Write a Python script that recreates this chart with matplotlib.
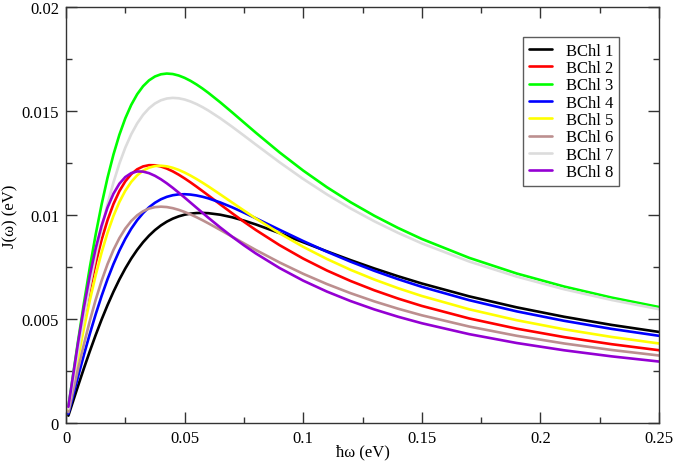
import matplotlib
matplotlib.use("Agg")
import matplotlib.pyplot as plt
from matplotlib.ticker import FixedLocator, MultipleLocator

x = [0.001, 0.005, 0.0075, 0.01, 0.0125, 0.015, 0.0175, 0.02, 0.0225, 0.025, 0.0275, 0.03,
     0.0325, 0.035, 0.0375, 0.04, 0.0425, 0.045, 0.0475, 0.05, 0.0525, 0.055, 0.0575, 0.06,
     0.065, 0.07, 0.075, 0.08, 0.09, 0.10, 0.11, 0.12, 0.13, 0.14, 0.15, 0.17, 0.19, 0.21,
     0.23, 0.25]

bchl1 = [0.000354, 0.001758, 0.002613, 0.003438, 0.004227, 0.004972, 0.005667, 0.006311, 0.006899,
         0.007430, 0.007906, 0.008325, 0.008692, 0.009007, 0.009275, 0.009498, 0.009680, 0.009824,
         0.009934, 0.010014, 0.010066, 0.010094, 0.010100, 0.010087, 0.010014, 0.009891, 0.009731,
         0.009546, 0.009131, 0.008690, 0.008252, 0.007829, 0.007429, 0.007055, 0.006707, 0.006088,
         0.005560, 0.005107, 0.004716, 0.004378]
bchl2 = [0.000688, 0.003379, 0.004952, 0.006395, 0.007685, 0.008805, 0.009751, 0.010528, 0.011146,
         0.011619, 0.011963, 0.012197, 0.012335, 0.012395, 0.012390, 0.012331, 0.012231, 0.012098,
         0.011938, 0.011760, 0.011567, 0.011364, 0.011154, 0.010941, 0.010511, 0.010087, 0.009675,
         0.009281, 0.008552, 0.007904, 0.007331, 0.006826, 0.006379, 0.005982, 0.005628, 0.005026,
         0.004536, 0.004130, 0.003789, 0.003499]
bchl3 = [0.000786, 0.003881, 0.005725, 0.007460, 0.009060, 0.010507, 0.011790, 0.012906, 0.013857,
         0.014650, 0.015295, 0.015805, 0.016193, 0.016473, 0.016659, 0.016764, 0.016800, 0.016777,
         0.016705, 0.016593, 0.016448, 0.016276, 0.016083, 0.015873, 0.015419, 0.014938, 0.014447,
         0.013958, 0.013012, 0.012135, 0.011335, 0.010612, 0.009962, 0.009376, 0.008848, 0.007939,
         0.007188, 0.006561, 0.006030, 0.005576]
bchl4 = [0.000444, 0.002200, 0.003259, 0.004270, 0.005223, 0.006106, 0.006914, 0.007641, 0.008288,
         0.008853, 0.009340, 0.009751, 0.010093, 0.010371, 0.010589, 0.010755, 0.010873, 0.010950,
         0.010991, 0.010999, 0.010981, 0.010939, 0.010878, 0.010800, 0.010604, 0.010371, 0.010114,
         0.009844, 0.009290, 0.008747, 0.008233, 0.007755, 0.007316, 0.006914, 0.006547, 0.005905,
         0.005367, 0.004913, 0.004525, 0.004192]
bchl5 = [0.000624, 0.003075, 0.004523, 0.005873, 0.007102, 0.008195, 0.009147, 0.009956, 0.010626,
         0.011168, 0.011591, 0.011908, 0.012132, 0.012276, 0.012352, 0.012369, 0.012339, 0.012270,
         0.012168, 0.012041, 0.011894, 0.011731, 0.011557, 0.011374, 0.010992, 0.010603, 0.010215,
         0.009836, 0.009120, 0.008469, 0.007885, 0.007362, 0.006896, 0.006480, 0.006106, 0.005466,
         0.004942, 0.004505, 0.004137, 0.003823]
bchl6 = [0.000520, 0.002560, 0.003768, 0.004894, 0.005922, 0.006838, 0.007638, 0.008320, 0.008888,
         0.009348, 0.009710, 0.009984, 0.010180, 0.010308, 0.010378, 0.010400, 0.010381, 0.010328,
         0.010248, 0.010146, 0.010027, 0.009894, 0.009751, 0.009600, 0.009284, 0.008960, 0.008637,
         0.008320, 0.007720, 0.007172, 0.006680, 0.006240, 0.005846, 0.005494, 0.005178, 0.004637,
         0.004193, 0.003823, 0.003511, 0.003245]
bchl7 = [0.000691, 0.003416, 0.005048, 0.006593, 0.008031, 0.009345, 0.010525, 0.011567, 0.012471,
         0.013240, 0.013881, 0.014403, 0.014817, 0.015132, 0.015361, 0.015514, 0.015600, 0.015630,
         0.015611, 0.015551, 0.015456, 0.015334, 0.015188, 0.015023, 0.014652, 0.014245, 0.013820,
         0.013388, 0.012537, 0.011733, 0.010990, 0.010312, 0.009697, 0.009140, 0.008636, 0.007763,
         0.007038, 0.006430, 0.005915, 0.005473]
bchl8 = [0.000780, 0.003804, 0.005531, 0.007071, 0.008393, 0.009488, 0.010360, 0.011024, 0.011504,
         0.011825, 0.012014, 0.012094, 0.012086, 0.012011, 0.011884, 0.011717, 0.011522, 0.011306,
         0.011076, 0.010838, 0.010595, 0.010352, 0.010109, 0.009869, 0.009403, 0.008960, 0.008543,
         0.008153, 0.007452, 0.006844, 0.006318, 0.005861, 0.005460, 0.005108, 0.004796, 0.004271,
         0.003846, 0.003496, 0.003204, 0.002955]

series = [bchl1, bchl2, bchl3, bchl4, bchl5, bchl6, bchl7, bchl8]
labels = ["BChl 1", "BChl 2", "BChl 3", "BChl 4", "BChl 5", "BChl 6", "BChl 7", "BChl 8"]
colors = ["#000000", "#ff0000", "#00ff00", "#0000ff", "#ffff00", "#bc8f8f", "#dcdcdc", "#9400d3"]

xticks = [0, 0.05, 0.1, 0.15, 0.2, 0.25]
xticklabels = ["0", "0.05", "0.1", "0.15", "0.2", "0.25"]
yticks = [0, 0.005, 0.01, 0.015, 0.02]
yticklabels = ["0", "0.005", "0.01", "0.015", "0.02"]

plt.rcParams['font.family'] = ['Liberation Serif', 'DejaVu Serif']

fig = plt.figure(figsize=(6.75, 4.64), dpi=100)
ax = fig.add_axes([0.0978, 0.0862, 0.8785, 0.8966])

for ys, lab, c in zip(series, labels, colors):
    ax.plot(x, ys, color=c, lw=1.9, label=lab, solid_capstyle='round', solid_joinstyle='round')

ax.set_xlim(0, 0.25)
ax.set_ylim(0, 0.02)
ax.xaxis.set_major_locator(FixedLocator(xticks))
ax.set_xticklabels(xticklabels)
ax.yaxis.set_major_locator(FixedLocator(yticks))
ax.set_yticklabels(yticklabels)
ax.xaxis.set_minor_locator(MultipleLocator(0.025))
ax.yaxis.set_minor_locator(MultipleLocator(0.0025))
ax.tick_params(which='both', direction='in', top=True, right=True, labelsize=12, width=1, color='#333333')
ax.tick_params(which='major', length=8, pad=5)
ax.tick_params(which='minor', length=4)
for s in ax.spines.values():
    s.set_linewidth(1.0)
    s.set_color('#333333')

ax.set_xlabel("ħω (eV)", fontsize=12)
ax.xaxis.set_label_coords(0.5, -0.048)
ax.set_ylabel("J(ω) (eV)", fontsize=12)
ax.yaxis.set_label_coords(-0.080, 0.5)

leg = ax.legend(loc='upper left', bbox_to_anchor=(0.771, 0.928), frameon=True, fancybox=False,
                borderaxespad=0, fontsize=12, handlelength=1.4, handletextpad=0.8,
                labelspacing=0.08, borderpad=0.35)
leg.get_frame().set_edgecolor('#333333')
leg.get_frame().set_linewidth(1.0)

fig.savefig("out.png", dpi=100)
